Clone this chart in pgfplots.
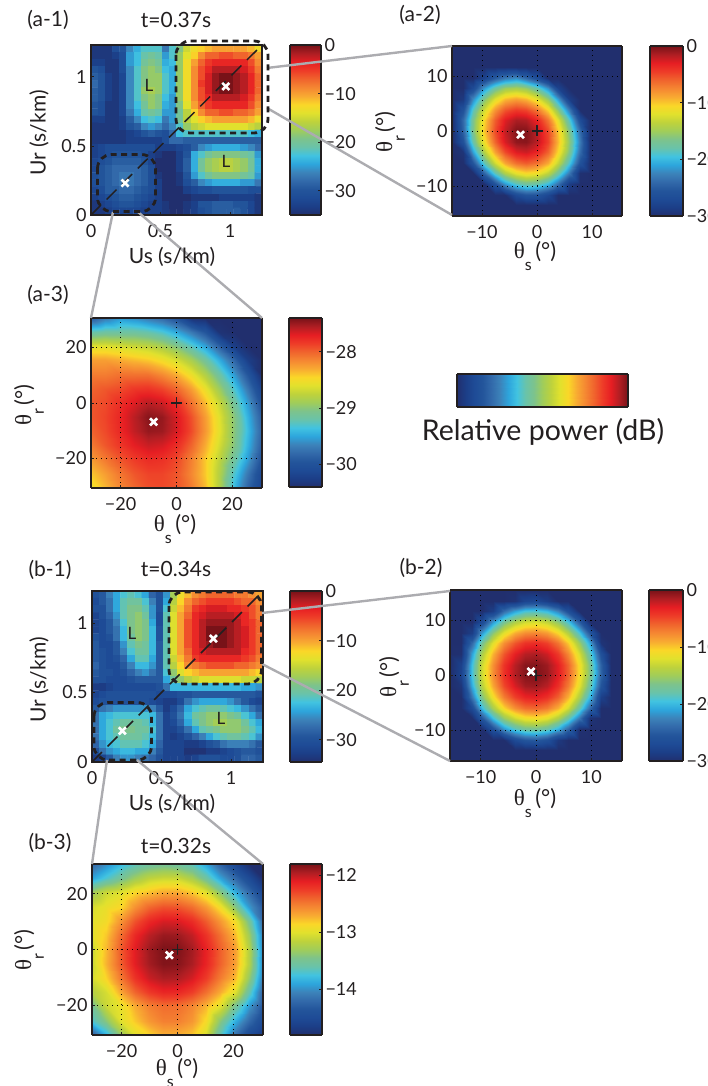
\documentclass[border=0pt]{standalone}
\usepackage{fontspec}
\usepackage{pgfplots}
\pgfplotsset{compat=1.18}
\setmainfont{Lato}
\newfontfamily\symf{Liberation Serif}
\definecolor{ink}{RGB}{35,31,32}
\definecolor{conn}{RGB}{172,172,176}
\pgfplotsset{colormap={rel}{rgb255=(33,47,110) rgb255=(28,62,135) rgb255=(30,75,150) rgb255=(35,85,155) rgb255=(50,105,170) rgb255=(60,130,185) rgb255=(45,165,220) rgb255=(65,195,225) rgb255=(105,195,170) rgb255=(125,195,140) rgb255=(160,205,90) rgb255=(190,210,60) rgb255=(225,225,45) rgb255=(250,215,40) rgb255=(248,170,50) rgb255=(245,135,50) rgb255=(240,100,45) rgb255=(238,60,40) rgb255=(230,30,35) rgb255=(175,30,35) rgb255=(120,18,24)}}
\newcommand\ts{\fontsize{18}{20}\selectfont}
\newcommand\tl{\fontsize{21}{24}\selectfont}
\newcommand\ang[1]{{\fontsize{23}{24}\selectfont\symf θ}\raisebox{-.6em}{\fontsize{16}{16}\selectfont #1}\,{\fontsize{22}{24}\selectfont(°)}}
\pgfplotsset{
 pan/.style={scale only axis,axis on top,enlargelimits=false,colormap name=rel,
  axis line style={line width=2pt,color=ink},tick style={color=ink,line width=.6pt},
  major tick length=3pt,tick align=inside,ticklabel style={font=\ts,text=ink},
  xtick pos=bottom,ytick pos=left,
  xticklabel style={yshift=-6pt},yticklabel style={xshift=-1pt}},
 gr/.style={grid=major,grid style={color=black,line width=.8pt,dash pattern=on .8pt off 4.2pt}},
 xm/.style={only marks,mark=x,mark size=5pt,white,mark options={line width=2.6pt,white}},
 pm/.style={only marks,mark=+,mark size=5.5pt,ink,mark options={line width=1.8pt,ink}},
 dg/.style={ink,line width=1.5pt,dash pattern=on 14pt off 8pt},
}
% colour bar: #1 left, #2 bottom, #3 width, #4 height, #5 min, #6 max, #7 ticks, #8 labels
\newcommand\cbar[8]{%
\begin{axis}[pan,view={0}{90},at={(#1pt,#2pt)},anchor=south west,width=#3pt,height=#4pt,xmin=0,xmax=1,ymin=#5,ymax=#6,
 xtick=\empty,ztick=\empty,ytick={#7},yticklabels={#8},ytick pos=right,yticklabel pos=right,yticklabel style={xshift=1pt},
 point meta min=#5,point meta max=#6,axis line style={line width=1.4pt,color=ink}]
\addplot3[surf,shader=interp,mesh/cols=2] coordinates {(0,#5,#5) (1,#5,#5)

(0,#6,#6) (1,#6,#6)};
\end{axis}}
\begin{document}
\begin{tikzpicture}[x=1pt,y=1pt]
\useasboundingbox (0,0) rectangle (707,1086);

% (a-1)
\begin{axis}[pan,at={(91pt,871pt)},anchor=south west,width=171pt,height=170pt,xmin=0,xmax=1.23,ymin=0,ymax=1.23,
 xtick={0,.5,1},xticklabels={0,0.5,1},ytick={0,.5,1},yticklabels={0,0.5,1},
 point meta min=-35,point meta max=0]
\addplot[matrix plot*,mesh/cols=24,point meta=explicit] table[header=false,row sep=\\,x expr={mod(\coordindex,24)*0.05125+0.0256},y expr={(23-floor((\coordindex+0.5)/24))*0.05125+0.0256},meta index=0]{
-34\\-34\\-34\\-31\\-30\\-26\\-24\\-22\\-22\\-22\\-27\\-22\\-19\\-15\\-13\\-12\\-11\\-10\\-10\\-10\\-10\\-10\\-11\\-13\\
-34\\-34\\-34\\-33\\-31\\-25\\-23\\-21\\-20\\-21\\-25\\-22\\-18\\-14\\-12\\-9\\-7\\-7\\-6\\-6\\-7\\-7\\-8\\-10\\
-33\\-33\\-34\\-34\\-31\\-25\\-23\\-20\\-19\\-20\\-24\\-23\\-18\\-13\\-10\\-7\\-5\\-4\\-4\\-4\\-4\\-4\\-6\\-9\\
-30\\-31\\-34\\-34\\-31\\-26\\-22\\-19\\-18\\-19\\-23\\-24\\-18\\-13\\-9\\-6\\-4\\-2\\-2\\-2\\-2\\-3\\-5\\-8\\
-29\\-30\\-33\\-34\\-32\\-26\\-22\\-19\\-18\\-18\\-22\\-24\\-18\\-13\\-9\\-6\\-3\\-1\\0\\0\\-1\\-2\\-4\\-7\\
-28\\-30\\-33\\-34\\-32\\-26\\-22\\-19\\-18\\-18\\-22\\-24\\-18\\-13\\-9\\-5\\-3\\-1\\0\\0\\-1\\-2\\-4\\-7\\
-29\\-30\\-33\\-34\\-32\\-26\\-22\\-18\\-17\\-18\\-22\\-24\\-18\\-13\\-9\\-6\\-3\\-1\\0\\0\\-1\\-2\\-4\\-7\\
-29\\-30\\-33\\-34\\-32\\-26\\-22\\-19\\-18\\-19\\-23\\-25\\-18\\-13\\-9\\-6\\-4\\-2\\-2\\-2\\-2\\-3\\-5\\-8\\
-30\\-31\\-34\\-34\\-32\\-26\\-23\\-20\\-18\\-19\\-24\\-25\\-19\\-14\\-10\\-7\\-5\\-4\\-4\\-4\\-4\\-4\\-6\\-9\\
-30\\-31\\-34\\-34\\-32\\-27\\-24\\-21\\-20\\-21\\-25\\-25\\-20\\-16\\-12\\-9\\-7\\-7\\-6\\-6\\-7\\-7\\-8\\-10\\
-33\\-33\\-34\\-34\\-33\\-29\\-26\\-23\\-22\\-23\\-27\\-25\\-20\\-16\\-14\\-12\\-11\\-10\\-10\\-10\\-10\\-10\\-11\\-13\\
-34\\-34\\-34\\-34\\-33\\-30\\-29\\-26\\-25\\-26\\-28\\-26\\-22\\-18\\-16\\-15\\-14\\-14\\-14\\-14\\-14\\-14\\-15\\-16\\
-34\\-34\\-34\\-34\\-34\\-33\\-32\\-30\\-29\\-30\\-31\\-28\\-23\\-22\\-22\\-22\\-22\\-22\\-22\\-22\\-22\\-22\\-23\\-24\\
-34\\-34\\-34\\-34\\-34\\-33\\-33\\-33\\-33\\-33\\-31\\-28\\-28\\-29\\-29\\-29\\-29\\-29\\-29\\-29\\-29\\-29\\-29\\-29\\
-33\\-32\\-31\\-31\\-31\\-31\\-31\\-31\\-31\\-33\\-33\\-33\\-32\\-31\\-29\\-26\\-25\\-24\\-24\\-24\\-24\\-25\\-26\\-28\\
-33\\-32\\-31\\-30\\-30\\-30\\-30\\-31\\-33\\-34\\-35\\-35\\-33\\-30\\-24\\-22\\-20\\-19\\-19\\-19\\-19\\-20\\-21\\-25\\
-32\\-31\\-30\\-29\\-29\\-29\\-29\\-30\\-32\\-35\\-35\\-35\\-33\\-29\\-24\\-20\\-18\\-17\\-16\\-16\\-17\\-18\\-20\\-24\\
-32\\-30\\-29\\-28\\-28\\-28\\-28\\-29\\-31\\-35\\-35\\-35\\-33\\-29\\-24\\-20\\-18\\-17\\-16\\-16\\-17\\-18\\-20\\-24\\
-31\\-30\\-29\\-28\\-27\\-27\\-28\\-29\\-31\\-34\\-35\\-35\\-34\\-30\\-25\\-22\\-20\\-19\\-19\\-19\\-19\\-20\\-21\\-25\\
-31\\-30\\-29\\-28\\-27\\-27\\-28\\-29\\-31\\-33\\-35\\-35\\-34\\-31\\-29\\-26\\-25\\-24\\-24\\-24\\-24\\-25\\-25\\-27\\
-32\\-31\\-29\\-29\\-28\\-28\\-29\\-30\\-31\\-33\\-35\\-35\\-35\\-33\\-32\\-31\\-31\\-30\\-30\\-30\\-30\\-30\\-31\\-31\\
-33\\-32\\-31\\-30\\-29\\-29\\-30\\-31\\-32\\-33\\-35\\-35\\-35\\-35\\-34\\-34\\-34\\-34\\-33\\-33\\-33\\-33\\-33\\-34\\
-34\\-33\\-32\\-31\\-30\\-30\\-31\\-32\\-33\\-33\\-34\\-35\\-35\\-34\\-33\\-30\\-30\\-29\\-29\\-29\\-30\\-30\\-32\\-34\\
-34\\-34\\-33\\-32\\-32\\-32\\-32\\-33\\-33\\-33\\-34\\-35\\-35\\-34\\-33\\-31\\-30\\-29\\-29\\-29\\-29\\-30\\-32\\-34\\
};
\addplot[dg] coordinates {(0,0) (1.23,1.23)};
\addplot[xm] coordinates {(.97,.93) (.245,.231)};
\end{axis}
\cbar{290}{871}{31}{170}{-35}{0}{-30,-20,-10,0}{−30,−20,−10,0}

% (a-2)
\begin{axis}[pan,gr,view={0}{90},at={(452pt,870pt)},anchor=south west,width=170pt,height=170pt,xmin=-15.45,xmax=15.45,ymin=-15.45,ymax=15.45,
 xtick={-10,0,10},xticklabels={−10,0,10},ytick={-10,0,10},yticklabels={−10,0,10},ztick=\empty,
 point meta min=-30,point meta max=0]
\addplot3[surf,shader=interp,mesh/cols=17] table[header=false,row sep=\\,x expr={mod(\coordindex,17)*1.93125-15.45},y expr={(16-floor((\coordindex+0.5)/17))*1.93125-15.45},z index=0]{
-30\\-30\\-30\\-30\\-30\\-30\\-30\\-30\\-30\\-30\\-30\\-30\\-30\\-30\\-30\\-30\\-30\\
-30\\-30\\-30\\-30\\-30\\-30\\-30\\-30\\-30\\-30\\-30\\-30\\-30\\-30\\-30\\-30\\-30\\
-30\\-30\\-30\\-30\\-30\\-30\\-30\\-30\\-30\\-30\\-30\\-30\\-30\\-30\\-30\\-30\\-30\\
-30\\-30\\-30\\-28\\-25\\-23\\-22\\-24\\-26.5\\-30\\-30\\-30\\-30\\-30\\-30\\-30\\-30\\
-30\\-30\\-27\\-21.5\\-17.5\\-15.2\\-14.6\\-15.5\\-18\\-22\\-28\\-30\\-30\\-30\\-30\\-30\\-30\\
-30\\-29\\-22\\-16.3\\-12\\-9.5\\-8.6\\-9.4\\-11.7\\-15.6\\-21.4\\-28.4\\-30\\-30\\-30\\-30\\-30\\
-30\\-26\\-18.5\\-12.6\\-8\\-5.4\\-4.3\\-4.8\\-6.8\\-10.4\\-16\\-22.8\\-30\\-30\\-30\\-30\\-30\\
-30\\-24\\-16.6\\-10.5\\-5.7\\-2.8\\-1.4\\-1.6\\-3.4\\-6.8\\-12\\-18.7\\-26.8\\-30\\-30\\-30\\-30\\
-30\\-24.4\\-16.4\\-10\\-5\\-2\\-0.3\\-0.3\\-1.9\\-5\\-10\\-16.4\\-24\\-30\\-30\\-30\\-30\\
-30\\-26\\-17.8\\-11.2\\-6\\-2.6\\-0.7\\-0.5\\-1.8\\-4.7\\-9.5\\-15.6\\-23\\-30\\-30\\-30\\-30\\
-30\\-29.4\\-21\\-14\\-8.6\\-5\\-2.8\\-2.3\\-3.4\\-6\\-10.6\\-16.4\\-23.9\\-30\\-30\\-30\\-30\\
-30\\-30\\-25.5\\-18.4\\-12.7\\-8.8\\-6.5\\-5.7\\-6.6\\-9\\-13.3\\-19\\-26\\-30\\-30\\-30\\-30\\
-30\\-30\\-30\\-24.3\\-18.3\\-14.2\\-11.7\\-10.6\\-11.2\\-13.5\\-17.5\\-23\\-29.8\\-30\\-30\\-30\\-30\\
-30\\-30\\-30\\-30\\-26\\-21.6\\-18.8\\-17.5\\-18\\-20\\-23.6\\-28.7\\-30\\-30\\-30\\-30\\-30\\
-30\\-30\\-30\\-30\\-30\\-30\\-27\\-25.7\\-25.8\\-27.5\\-30\\-30\\-30\\-30\\-30\\-30\\-30\\
-30\\-30\\-30\\-30\\-30\\-30\\-30\\-30\\-30\\-30\\-30\\-30\\-30\\-30\\-30\\-30\\-30\\
-30\\-30\\-30\\-30\\-30\\-30\\-30\\-30\\-30\\-30\\-30\\-30\\-30\\-30\\-30\\-30\\-30\\
};
\addplot3[pm] coordinates {(0,0,0)};
\addplot3[xm] coordinates {(-3,-.67,0)};
\end{axis}
\cbar{650}{870}{33}{170}{-30}{0}{-30,-20,-10,0}{−30,−20,−10,0}

% (a-3)
\begin{axis}[pan,gr,view={0}{90},at={(91pt,598pt)},anchor=south west,width=171pt,height=170pt,xmin=-30.6,xmax=30.6,ymin=-30.6,ymax=30.6,
 xtick={-20,0,20},xticklabels={−20,0,20},ytick={-20,0,20},yticklabels={−20,0,20},ztick=\empty,
 point meta min=-30.4,point meta max=-27.4]
\addplot3[surf,shader=interp,mesh/cols=13] table[header=false,row sep=\\,x expr={mod(\coordindex,13)*5.1-30.6},y expr={(12-floor((\coordindex+0.5)/13))*5.1-30.6},z index=0]{
-29.9\\-29.7\\-29.55\\-29.6\\-29.7\\-29.8\\-30\\-30.35\\-30.4\\-30.4\\-30.4\\-30.4\\-30.4\\
-29.2\\-29.15\\-29.15\\-29.15\\-29.2\\-29.3\\-29.48\\-29.7\\-29.95\\-30.35\\-30.4\\-30.4\\-30.4\\
-28.6\\-28.6\\-28.65\\-28.7\\-28.75\\-28.85\\-29.03\\-29.25\\-29.5\\-29.85\\-30.25\\-30.4\\-30.4\\
-28.25\\-28.25\\-28.3\\-28.35\\-28.4\\-28.5\\-28.65\\-28.85\\-29.12\\-29.45\\-29.82\\-30.25\\-30.4\\
-28.1\\-28.1\\-28.05\\-28.05\\-28.05\\-28.15\\-28.3\\-28.52\\-28.8\\-29.14\\-29.53\\-29.95\\-30.4\\
-28\\-27.95\\-27.9\\-27.82\\-27.8\\-27.87\\-28.01\\-28.24\\-28.54\\-28.9\\-29.3\\-29.73\\-30.2\\
-27.95\\-27.9\\-27.78\\-27.67\\-27.57\\-27.62\\-27.78\\-28.05\\-28.35\\-28.7\\-29.12\\-29.55\\-30.03\\
-27.95\\-27.88\\-27.74\\-27.58\\-27.44\\-27.48\\-27.66\\-27.92\\-28.24\\-28.6\\-29\\-29.45\\-29.9\\
-28\\-27.9\\-27.75\\-27.6\\-27.48\\-27.5\\-27.66\\-27.9\\-28.22\\-28.58\\-29\\-29.4\\-29.85\\
-28.1\\-27.95\\-27.82\\-27.7\\-27.62\\-27.65\\-27.78\\-28\\-28.3\\-28.65\\-29.02\\-29.45\\-29.9\\
-28.25\\-28.1\\-27.95\\-27.85\\-27.78\\-27.8\\-27.9\\-28.12\\-28.4\\-28.75\\-29.15\\-29.55\\-30\\
-28.4\\-28.25\\-28.08\\-27.95\\-27.88\\-27.88\\-27.95\\-28.15\\-28.4\\-28.8\\-29.3\\-29.73\\-30.15\\
-28.55\\-28.35\\-28.15\\-28.02\\-27.92\\-27.9\\-27.95\\-28.1\\-28.35\\-28.8\\-29.4\\-29.85\\-30.2\\
};
\addplot3[pm] coordinates {(0,0,-27)};
\addplot3[xm] coordinates {(-8.2,-6.8,-27)};
\end{axis}
\cbar{289}{599}{33}{169}{-30.41}{-27.4}{-30,-29,-28}{−30,−29,−28}

% horizontal scale
\begin{axis}[pan,view={0}{90},at={(457pt,679pt)},anchor=south west,width=171pt,height=33pt,xmin=0,xmax=1,ymin=0,ymax=1,xtick=\empty,ytick=\empty,ztick=\empty,point meta min=0,point meta max=1,axis line style={line width=1.4pt,color=ink}]
\addplot3[surf,shader=interp,mesh/cols=2] coordinates {(0,0,0) (1,0,1)

(0,1,0) (1,1,1)};
\end{axis}

% (b-1)
\begin{axis}[pan,at={(92pt,324pt)},anchor=south west,width=171pt,height=171pt,xmin=0,xmax=1.23,ymin=0,ymax=1.23,
 xtick={0,.5,1},xticklabels={0,0.5,1},ytick={0,.5,1},yticklabels={0,0.5,1},
 point meta min=-34.5,point meta max=0]
\addplot[matrix plot*,mesh/cols=24,point meta=explicit] table[header=false,row sep=\\,x expr={mod(\coordindex,24)*0.05125+0.0256},y expr={(23-floor((\coordindex+0.5)/24))*0.05125+0.0256},meta index=0]{
-30\\-29\\-26\\-24\\-22\\-21\\-22\\-24\\-28\\-30\\-25\\-17\\-13\\-11\\-9\\-8\\-7\\-7\\-7\\-7\\-8\\-8\\-9\\-10\\
-31\\-29\\-27\\-24\\-21\\-20\\-20\\-22\\-26\\-30\\-24\\-16\\-12\\-9\\-7\\-6\\-5\\-5\\-5\\-5\\-6\\-7\\-7\\-9\\
-30\\-30\\-27\\-24\\-21\\-19\\-19\\-21\\-25\\-30\\-22\\-15\\-11\\-8\\-5\\-4\\-3\\-3\\-3\\-4\\-4\\-5\\-6\\-8\\
-32\\-30\\-28\\-25\\-21\\-19\\-18\\-20\\-25\\-31\\-21\\-14\\-10\\-7\\-4\\-3\\-2\\-2\\-2\\-2\\-3\\-4\\-6\\-8\\
-32\\-31\\-29\\-26\\-22\\-19\\-18\\-19\\-24\\-31\\-21\\-14\\-10\\-6\\-4\\-2\\-1\\-1\\-1\\-1\\-2\\-4\\-5\\-7\\
-32\\-31\\-29\\-27\\-23\\-19\\-18\\-19\\-23\\-30\\-21\\-14\\-10\\-6\\-4\\-2\\0\\0\\0\\-1\\-2\\-3\\-5\\-7\\
-30\\-31\\-30\\-27\\-23\\-20\\-18\\-19\\-23\\-30\\-21\\-14\\-10\\-6\\-4\\-2\\0\\0\\0\\-1\\-2\\-3\\-5\\-7\\
-29\\-31\\-31\\-29\\-25\\-21\\-19\\-20\\-23\\-29\\-21\\-14\\-10\\-6\\-4\\-2\\-1\\0\\0\\-1\\-2\\-3\\-5\\-7\\
-29\\-30\\-31\\-29\\-26\\-22\\-20\\-20\\-23\\-29\\-21\\-14\\-10\\-7\\-4\\-3\\-2\\-2\\-2\\-2\\-2\\-4\\-5\\-7\\
-29\\-30\\-31\\-30\\-28\\-24\\-21\\-21\\-24\\-29\\-21\\-15\\-11\\-8\\-5\\-4\\-4\\-4\\-4\\-4\\-4\\-5\\-6\\-8\\
-28\\-30\\-31\\-31\\-29\\-26\\-23\\-23\\-25\\-29\\-21\\-16\\-12\\-9\\-8\\-7\\-6\\-6\\-6\\-6\\-7\\-7\\-8\\-9\\
-29\\-30\\-30\\-31\\-30\\-28\\-26\\-25\\-27\\-29\\-22\\-18\\-14\\-12\\-11\\-10\\-10\\-10\\-10\\-10\\-10\\-10\\-11\\-12\\
-30\\-30\\-31\\-31\\-31\\-30\\-29\\-29\\-29\\-29\\-24\\-20\\-18\\-16\\-15\\-14\\-14\\-14\\-14\\-14\\-14\\-15\\-15\\-16\\
-33\\-33\\-32\\-31\\-31\\-31\\-31\\-31\\-31\\-30\\-27\\-23\\-23\\-23\\-23\\-23\\-23\\-23\\-23\\-23\\-23\\-24\\-24\\-25\\
-32\\-31\\-30\\-30\\-30\\-30\\-30\\-30\\-30\\-31\\-31\\-31\\-30\\-30\\-29\\-29\\-29\\-29\\-29\\-29\\-29\\-29\\-29\\-30\\
-31\\-30\\-30\\-30\\-30\\-30\\-30\\-30\\-31\\-32\\-33\\-33\\-31\\-27\\-25\\-24\\-24\\-24\\-24\\-25\\-27\\-29\\-31\\-32\\
-29\\-27\\-26\\-25\\-25\\-25\\-25\\-25\\-26\\-29\\-33\\-31\\-28\\-24\\-22\\-21\\-20\\-20\\-21\\-22\\-23\\-25\\-27\\-29\\
-27\\-24\\-23\\-22\\-22\\-22\\-22\\-22\\-23\\-27\\-32\\-30\\-27\\-23\\-20\\-19\\-18\\-18\\-18\\-19\\-20\\-22\\-24\\-27\\
-27\\-24\\-22\\-21\\-20\\-20\\-20\\-21\\-23\\-27\\-32\\-31\\-28\\-24\\-21\\-19\\-18\\-17\\-17\\-18\\-18\\-20\\-22\\-24\\
-27\\-24\\-22\\-20\\-19\\-19\\-20\\-20\\-22\\-27\\-32\\-32\\-30\\-27\\-24\\-21\\-20\\-19\\-18\\-18\\-18\\-19\\-21\\-23\\
-27\\-24\\-22\\-21\\-20\\-20\\-20\\-21\\-23\\-27\\-32\\-33\\-32\\-30\\-28\\-26\\-24\\-22\\-21\\-20\\-20\\-21\\-22\\-25\\
-28\\-25\\-23\\-22\\-21\\-21\\-21\\-22\\-24\\-28\\-32\\-32\\-32\\-33\\-33\\-32\\-30\\-29\\-27\\-26\\-26\\-26\\-27\\-29\\
-30\\-27\\-25\\-24\\-23\\-23\\-24\\-24\\-26\\-29\\-32\\-32\\-32\\-34\\-34\\-34\\-33\\-33\\-32\\-31\\-30\\-29\\-29\\-30\\
-33\\-32\\-29\\-26\\-25\\-25\\-26\\-27\\-28\\-30\\-32\\-32\\-32\\-33\\-32\\-30\\-30\\-30\\-31\\-31\\-30\\-28\\-28\\-29\\
};
\addplot[dg] coordinates {(0,0) (1.23,1.23)};
\addplot[xm] coordinates {(.873,.887) (.218,.224)};
\end{axis}
\cbar{290}{324}{32}{171}{-34.5}{0}{-30,-20,-10,0}{−30,−20,−10,0}

% (b-2)
\begin{axis}[pan,gr,view={0}{90},at={(450pt,325pt)},anchor=south west,width=172pt,height=171pt,xmin=-15.55,xmax=15.55,ymin=-15.55,ymax=15.55,
 xtick={-10,0,10},xticklabels={−10,0,10},ytick={-10,0,10},yticklabels={−10,0,10},ztick=\empty,
 point meta min=-30,point meta max=0]
\addplot3[surf,shader=interp,mesh/cols=17] table[header=false,row sep=\\,x expr={mod(\coordindex,17)*1.94375-15.55},y expr={(16-floor((\coordindex+0.5)/17))*1.94375-15.55},z index=0]{
-30\\-30\\-30\\-30\\-30\\-30\\-30\\-30\\-30\\-30\\-30\\-30\\-30\\-30\\-30\\-30\\-30\\
-30\\-30\\-30\\-30\\-30\\-30\\-29.6\\-27.7\\-27.3\\-28.5\\-30\\-30\\-30\\-30\\-30\\-30\\-30\\
-30\\-30\\-30\\-30\\-28.5\\-23.8\\-21\\-19.3\\-19\\-20\\-22.5\\-26.4\\-30\\-30\\-30\\-30\\-30\\
-30\\-30\\-30\\-27\\-21.3\\-16.9\\-14.2\\-12.7\\-12.3\\-13.3\\-15.7\\-19.3\\-24.7\\-30\\-30\\-30\\-30\\
-30\\-30\\-28.5\\-21.3\\-15.8\\-11.7\\-9\\-7.7\\-7.4\\-8.3\\-10.5\\-14\\-19.1\\-25.5\\-30\\-30\\-30\\
-30\\-30\\-24\\-17\\-11.8\\-7.8\\-5.4\\-4\\-3.7\\-4.6\\-6.7\\-10\\-15\\-21\\-29.4\\-30\\-30\\
-30\\-29.8\\-21\\-14.3\\-9.2\\-5.4\\-3\\-1.7\\-1.4\\-2.3\\-4.3\\-7.5\\-12.3\\-18.3\\-26.2\\-30\\-30\\
-30\\-28.1\\-19.5\\-12.8\\-7.8\\-4\\-1.7\\-0.4\\-0.3\\-1\\-3\\-6\\-10.8\\-16.7\\-24.6\\-30\\-30\\
-30\\-28\\-19.3\\-12.7\\-7.7\\-3.9\\-1.5\\-0.3\\-0.1\\-0.8\\-2.9\\-5.9\\-10.7\\-16.5\\-24.4\\-30\\-30\\
-30\\-29.3\\-20.5\\-13.8\\-8.8\\-4.9\\-2.6\\-1.2\\-1\\-1.8\\-3.9\\-7\\-11.8\\-17.7\\-25.7\\-30\\-30\\
-30\\-30\\-23\\-16.2\\-11\\-7\\-4.6\\-3.3\\-3\\-3.9\\-5.9\\-9.2\\-14.2\\-20.2\\-28.3\\-30\\-30\\
-30\\-30\\-27\\-19.8\\-14.5\\-10.4\\-7.8\\-6.4\\-6.1\\-7\\-9.2\\-12.6\\-17.7\\-24\\-30\\-30\\-30\\
-30\\-30\\-30\\-25.3\\-19.6\\-15.3\\-12.7\\-11.2\\-10.8\\-11.8\\-14.2\\-17.7\\-23\\-29.6\\-30\\-30\\-30\\
-30\\-30\\-30\\-30\\-26.2\\-21.6\\-18.8\\-17.2\\-16.9\\-17.9\\-20.4\\-24.2\\-29.8\\-30\\-30\\-30\\-30\\
-30\\-30\\-30\\-30\\-30\\-30\\-27\\-25.5\\-25.1\\-26.2\\-29\\-30\\-30\\-30\\-30\\-30\\-30\\
-30\\-30\\-30\\-30\\-30\\-30\\-30\\-30\\-30\\-30\\-30\\-30\\-30\\-30\\-30\\-30\\-30\\
-30\\-30\\-30\\-30\\-30\\-30\\-30\\-30\\-30\\-30\\-30\\-30\\-30\\-30\\-30\\-30\\-30\\
};
\addplot3[pm] coordinates {(0,0,0)};
\addplot3[xm] coordinates {(-.9,.72,0)};
\end{axis}
\cbar{649}{325}{34}{171}{-30}{0}{-30,-20,-10,0}{−30,−20,−10,0}

% (b-3)
\begin{axis}[pan,gr,view={0}{90},at={(92pt,51pt)},anchor=south west,width=171pt,height=171pt,xmin=-30.6,xmax=30.6,ymin=-30.6,ymax=30.6,
 xtick={-20,0,20},xticklabels={−20,0,20},ytick={-20,0,20},yticklabels={−20,0,20},ztick=\empty,
 point meta min=-14.8,point meta max=-11.8]
\addplot3[surf,shader=interp,mesh/cols=13] table[header=false,row sep=\\,x expr={mod(\coordindex,13)*5.1-30.6},y expr={(12-floor((\coordindex+0.5)/13))*5.1-30.6},z index=0]{
-14.2\\-14\\-13.8\\-13.65\\-13.55\\-13.5\\-13.55\\-13.65\\-13.9\\-14.25\\-14.55\\-14.8\\-14.8\\
-13.9\\-13.7\\-13.5\\-13.3\\-13.15\\-13.1\\-13.1\\-13.25\\-13.55\\-13.9\\-14.2\\-14.5\\-14.8\\
-13.3\\-13.1\\-13\\-12.85\\-12.77\\-12.69\\-12.69\\-12.8\\-13\\-13.4\\-13.85\\-14.2\\-14.55\\
-13.05\\-12.95\\-12.85\\-12.59\\-12.41\\-12.33\\-12.34\\-12.44\\-12.63\\-12.9\\-13.4\\-13.95\\-14.3\\
-13\\-12.9\\-12.6\\-12.33\\-12.15\\-12.06\\-12.07\\-12.17\\-12.37\\-12.62\\-12.9\\-13.5\\-14.2\\
-13\\-12.8\\-12.43\\-12.15\\-11.98\\-11.89\\-11.9\\-12\\-12.2\\-12.45\\-12.75\\-13.3\\-14.08\\
-13.1\\-12.75\\-12.35\\-12.08\\-11.9\\-11.81\\-11.82\\-11.92\\-12.12\\-12.38\\-12.65\\-13.2\\-14.05\\
-13.1\\-12.73\\-12.37\\-12.09\\-11.92\\-11.83\\-11.84\\-11.94\\-12.13\\-12.39\\-12.65\\-13.2\\-14.05\\
-13.05\\-12.84\\-12.48\\-12.2\\-12.02\\-11.94\\-11.95\\-12.05\\-12.24\\-12.5\\-12.75\\-13.35\\-14.1\\
-13.2\\-13.05\\-12.68\\-12.4\\-12.23\\-12.14\\-12.15\\-12.25\\-12.45\\-12.7\\-13\\-13.6\\-14.25\\
-13.5\\-13.1\\-12.95\\-12.7\\-12.52\\-12.44\\-12.45\\-12.55\\-12.74\\-13\\-13.5\\-13.95\\-14.35\\
-13.7\\-13.4\\-13\\-12.8\\-12.62\\-12.52\\-12.52\\-12.62\\-12.88\\-13.4\\-13.85\\-14.2\\-14.5\\
-14.3\\-13.85\\-13.35\\-13\\-12.85\\-12.72\\-12.72\\-12.8\\-13.05\\-13.65\\-14.15\\-14.5\\-14.7\\
};
\addplot3[pm] coordinates {(0,0,-11)};
\addplot3[xm] coordinates {(-2.9,-2,-11)};
\end{axis}
\cbar{290}{51}{32}{171}{-14.8}{-11.8}{-14,-13,-12}{−14,−13,−12}

% annotations in picture pixels (y downwards)
\begin{scope}[x=1pt,y=-1pt,yshift=1086pt]
 \begin{scope}[conn,line width=2.4pt]
 \draw (267,68)--(452,46); \draw (267,108)--(452,215);
 \draw (113,212)--(91,318); \draw (138,212)--(262,318);
 \draw (262,613)--(450,591); \draw (262,664)--(450,761);
 \draw (107,760)--(92,864); \draw (137,760)--(263,864);
 \end{scope}
 \begin{scope}[ink,line width=2.8pt,dash pattern=on 6pt off 4.5pt,rounded corners=14pt]
 \draw (176,41) rectangle (268,133);
 \draw (97.5,154.5) rectangle (155.5,211.5);
 \draw (169,592) rectangle (261.5,684);
 \draw (94,702.5) rectangle (151.5,760);
 \end{scope}
 \begin{scope}[text=ink,font=\tl]
 \node at (48,20) {(a-1)}; \node at (176,20) {t=0.37s};
 \node at (420,15) {(a-2)}; \node at (48,295) {(a-3)};
 \node at (50,570) {(b-1)}; \node at (176,569) {t=0.34s};
 \node at (421,568) {(b-2)}; \node at (50,843) {(b-3)}; \node at (176,846) {t=0.32s};
 \node at (172,257) {Us (s/km)}; \node[rotate=90] at (39,133) {Ur (s/km)};
 \node at (172,804) {Us (s/km)}; \node[rotate=90] at (39,680) {Ur (s/km)};
 \node at (535,256) {\ang{s}}; \node[rotate=90] at (390,132) {\ang{r}};
 \node at (175,529) {\ang{s}}; \node[rotate=90] at (29,405) {\ang{r}};
 \node at (535,803) {\ang{s}}; \node[rotate=90] at (394,677) {\ang{r}};
 \node at (177,1073) {\ang{s}}; \node[rotate=90] at (29,950) {\ang{r}};
 \node[font=\fontsize{28.5}{32}\selectfont] at (543,432) {Relative power (dB)};
 \node[font=\fontsize{17}{20}\selectfont] at (149,85) {L}; \node[font=\fontsize{17}{20}\selectfont] at (226,161) {L};
 \node[font=\fontsize{17}{20}\selectfont] at (132,633) {L}; \node[font=\fontsize{17}{20}\selectfont] at (221,718) {L};
 \end{scope}
\end{scope}
\end{tikzpicture}
\end{document}
